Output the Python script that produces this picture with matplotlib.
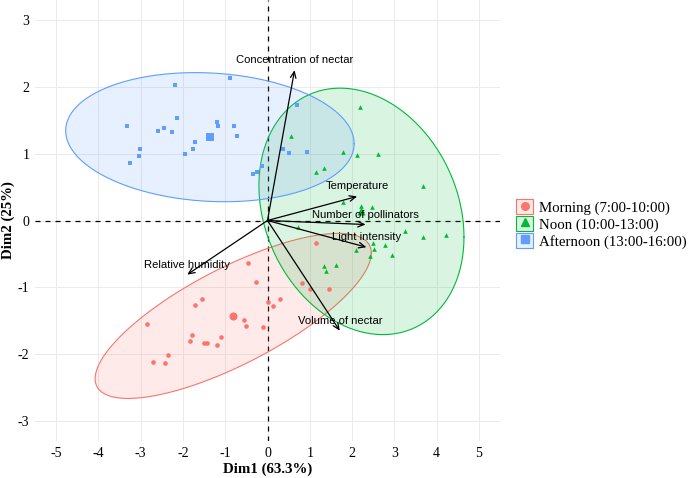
import matplotlib
matplotlib.use("Agg")
import matplotlib.pyplot as plt
import numpy as np
from matplotlib.lines import Line2D
from matplotlib.patches import Patch

plt.rcParams['axes.unicode_minus'] = False

# individuals (PCA scores) per time group
morning_x = [1.15, -0.46, -0.27, 0.81, 1.00, 1.45, -1.54, -1.71, 0.30, 0.00, 0.14, -0.56,
             -0.50, -0.10, -2.85, -1.78, -1.84, -1.11, -1.51, -1.42, -1.20, -2.35, -2.70, -2.42]
morning_y = [-0.33, -0.64, -0.92, -0.93, -1.02, -1.02, -1.18, -1.26, -1.18, -1.22, -1.28, -1.49,
             -1.58, -1.59, -1.55, -1.72, -1.81, -1.75, -1.83, -1.83, -1.87, -2.01, -2.12, -2.14]

noon_x = [0.55, 2.19, 1.78, 2.12, 2.62, 1.14, 1.34, 3.67, 1.78, 2.48, 0.72, 3.25,
          3.67, 4.22, 2.50, 2.78, 2.10, 2.52, 2.43, 2.94, 1.33, 1.62, 1.39, 2.20]
noon_y = [1.27, 1.70, 1.03, 0.98, 0.99, 0.72, 0.79, 0.52, 0.28, 0.20, -0.09, -0.15,
          -0.24, -0.21, -0.34, -0.36, -0.44, -0.43, -0.53, -0.52, -0.68, -0.67, -0.76, 0.22]

afternoon_x = [-3.32, -3.26, -3.03, -3.01, -2.58, -2.46, -2.25, -2.20, -2.15, -1.94, -1.77, -1.71,
               -1.20, -1.18, -0.88, -0.80, -0.73, -0.35, -0.24, -0.12, 0.36, 0.50, 0.70, 0.93]
afternoon_y = [1.41, 0.86, 0.96, 1.07, 1.34, 1.39, 1.33, 2.03, 1.53, 0.99, 1.07, 1.17,
               1.47, 1.42, 2.13, 1.42, 1.26, 0.70, 0.73, 0.81, 1.07, 1.01, 1.73, 1.03]

group_labels = ["Morning (7:00-10:00)", "Noon (10:00-13:00)", "Afternoon (13:00-16:00)"]

# variables (loadings, scaled)
var_names = ["Concentration of nectar", "Temperature", "Number of pollinators",
             "Light intensity", "Volume of nectar", "Relative humidity"]
var_x = [0.64, 2.12, 2.32, 2.34, 1.71, -1.90]
var_y = [2.25, 0.36, -0.06, -0.40, -1.65, -0.81]

colors = ["#F8766D", "#00BA38", "#619CFF"]
markers = ["o", "^", "s"]


def norm_ellipse(x, y, level=0.95, npts=120):
    # same as ggplot2 stat_ellipse(type = "norm")
    x = np.asarray(x)
    y = np.asarray(y)
    n = len(x)
    center = np.array([x.mean(), y.mean()])
    L = np.linalg.cholesky(np.cov(x, y))
    d2 = n - 1
    fq = d2 / 2 * ((1 - level) ** (-2 / d2) - 1)  # qf(level, 2, d2)
    r = np.sqrt(2 * fq)
    t = np.linspace(0, 2 * np.pi, npts)
    circ = np.vstack([np.cos(t), np.sin(t)])
    pts = center[:, None] + r * (L @ circ)
    return pts[0], pts[1]


fig = plt.figure(figsize=(6.88, 4.78), dpi=100)
ax = fig.add_axes([35 / 688, 1 - 441 / 478, 465 / 688, 441 / 478])

groups = [(morning_x, morning_y), (noon_x, noon_y), (afternoon_x, afternoon_y)]

ax.axhline(0, color="black", lw=0.9, ls=(0, (4, 4)), zorder=1)
ax.axvline(0, color="black", lw=0.9, ls=(0, (4, 4)), zorder=1)

for (gx, gy), c, m in zip(groups, colors, markers):
    ax.scatter(gx, gy, s=11, marker=m, color=c, linewidths=0, zorder=3)
    ax.scatter([np.mean(gx)], [np.mean(gy)], s=34, marker=m, color=c, linewidths=0, zorder=3)
    ex, ey = norm_ellipse(gx, gy)
    ax.fill(ex, ey, facecolor=c, alpha=0.15, edgecolor="none", zorder=2)
    ax.plot(ex, ey, color=c, lw=0.8, zorder=2)

for name, vx, vy in zip(var_names, var_x, var_y):
    ax.annotate("", xy=(vx, vy), xytext=(0, 0),
                arrowprops=dict(arrowstyle="->,head_length=0.45,head_width=0.2",
                                color="black", lw=0.9, shrinkA=0, shrinkB=0), zorder=4)
    ax.annotate(name, xy=(vx, vy), xytext=(0, 7.2), textcoords="offset points",
                ha="center", va="center", fontsize=8.1, family="Liberation Sans", zorder=5)

ax.set_xlim(-5.5, 5.5)
ax.set_ylim(-3.3, 3.3)
ax.set_xticks(np.arange(-5, 6, 1))
ax.set_yticks(np.arange(-3, 4, 1))
ax.grid(True, color="#EBEBEB", lw=0.7)
ax.set_axisbelow(True)
for s in ax.spines.values():
    s.set_visible(False)
ax.tick_params(length=0, labelsize=10, pad=4)
for lab in ax.get_xticklabels() + ax.get_yticklabels():
    lab.set_family("Liberation Serif")
ax.set_xlabel("Dim1 (63.3%)", family="Liberation Serif", fontweight="bold", fontsize=10.7, labelpad=2)
ax.set_ylabel("Dim2 (25%)", family="Liberation Serif", fontweight="bold", fontsize=10.7, labelpad=2)

handles = []
for c, m in zip(colors, markers):
    handles.append((Patch(facecolor=c, alpha=0.15, edgecolor=c, lw=0.8),
                    Patch(facecolor="none", edgecolor=c, lw=0.8),
                    Line2D([], [], marker=m, color=c, ls="none", markersize=5.5)))
fig.legend(handles, group_labels, loc="center left", bbox_to_anchor=(516 / 688, 1 - 224 / 478),
           frameon=False, handlelength=1.15, handleheight=1.15, handletextpad=0.4,
           labelspacing=0.08, borderpad=0, borderaxespad=0,
           prop={"family": "Liberation Serif", "size": 10.7})

fig.savefig("out.png", dpi=100)
